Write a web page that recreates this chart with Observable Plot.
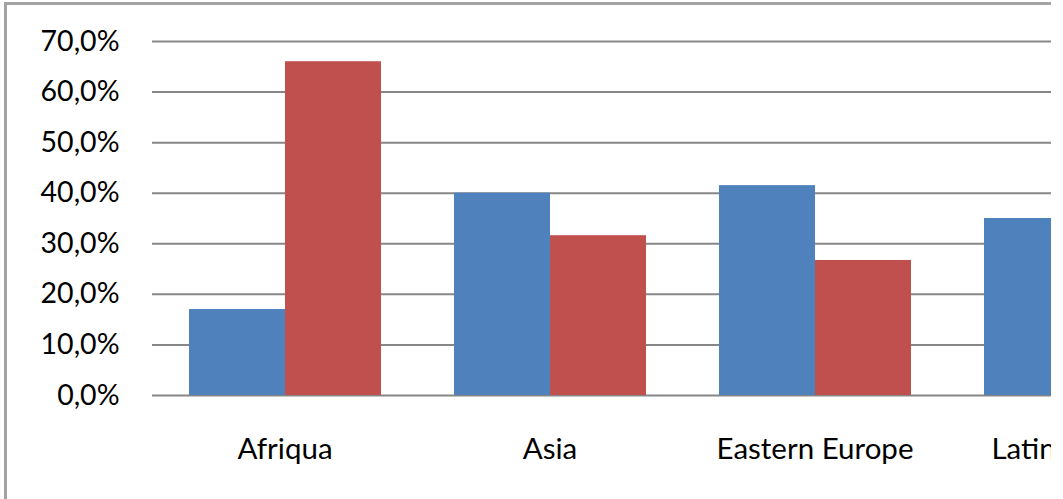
<!DOCTYPE html>
<html>
<head>
<meta charset="utf-8">
<script src="https://cdn.jsdelivr.net/npm/d3@7"></script>
<script src="https://cdn.jsdelivr.net/npm/@observablehq/plot@0.6"></script>
<style>
  html, body { margin: 0; padding: 0; background: #fff; }
  #view { position: absolute; left: 0; top: 0; width: 1051px; height: 499px; overflow: hidden; background: #fff; }
  #frame { position: absolute; left: 4px; top: 2px; width: 2000px; height: 800px; border: 3px solid #a3a3a3; box-sizing: border-box; }
  #chart { position: absolute; left: 0; top: 0; width: 1213px; }
  #chart svg { font-family: Lato, "Open Sans", sans-serif; max-width: none !important; }
</style>
</head>
<body>
<div id="view">
  <div id="frame"></div>
  <div id="chart"></div>
</div>
<script>
// Regions along the category axis
const regions = ["Afriqua", "Asia", "Eastern Europe", "Latin America"];
// Share per region for the two series (fractions)
const series1 = [0.170, 0.400, 0.415, 0.350];
const series2 = [0.660, 0.316, 0.267, null];
const seriesNames = ["Series 1", "Series 2"];
const yTicks = [0, 0.1, 0.2, 0.3, 0.4, 0.5, 0.6, 0.7];
const colors = ["#4F81BD", "#C0504D"];

const rows = [];
regions.forEach((r, i) => {
  if (series1[i] != null) rows.push({region: r, series: seriesNames[0], value: series1[i]});
  if (series2[i] != null) rows.push({region: r, series: seriesNames[1], value: series2[i]});
});

const fmt = d => (d * 100).toFixed(1).replace(".", ",") + "%";

const chart = Plot.plot({
  width: 1213,
  height: 499,
  marginLeft: 151,
  marginRight: 0,
  marginTop: 41,
  marginBottom: 104,
  style: {fontSize: "28px", color: "#000", background: "transparent", overflow: "visible"},
  fx: {domain: regions, padding: 0, label: null},
  x: {domain: seriesNames, paddingInner: 0, paddingOuter: 0.376, axis: null},
  y: {domain: [0, 0.7], label: null},
  color: {domain: seriesNames, range: colors},
  marks: [
    Plot.ruleY(yTicks, {stroke: "#878787", strokeWidth: 2, strokeOpacity: 1}),
    Plot.barY(rows, {fx: "region", x: "series", y: "value", fill: "series", insetLeft: 0, insetRight: 0}),
    Plot.axisY({ticks: yTicks, tickFormat: fmt, tickSize: 0, tickPadding: 33, label: null, fontSize: 28.5}),
    Plot.axisFx({anchor: "bottom", tickSize: 0, tickPadding: 43, label: null, fontSize: 29.5})
  ]
});
document.getElementById("chart").appendChild(chart);
</script>
</body>
</html>
